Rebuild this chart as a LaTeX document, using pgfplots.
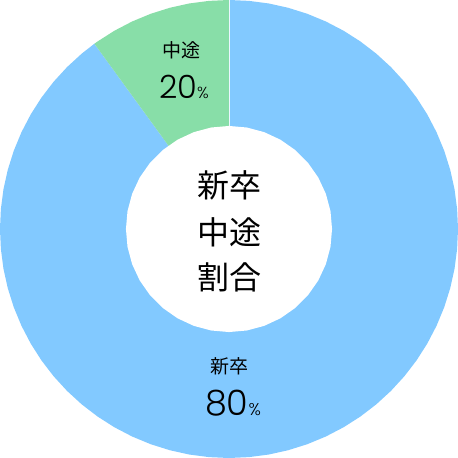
\documentclass[border=0pt]{standalone}
\usepackage{fontspec}
\setmainfont{Noto Sans CJK JP}
\newfontfamily\numfont{Poppins}[UprightFont={* Light}]
\usepackage{pgfplots}
\usepgfplotslibrary{polar}
\pgfplotsset{compat=1.18}
\definecolor{newgrad}{RGB}{130,201,255}
\definecolor{midcar}{RGB}{136,222,168}
\begin{document}
\begin{tikzpicture}
\begin{polaraxis}[
    hide axis,
    scale only axis,
    width=458bp, height=458bp,
    ymin=0, ymax=1,
    clip=false,
]
% 新卒 wedge (outline of the outer circle, angle in degrees, radius 1)
\addplot[draw=none, fill=newgrad, mark=none] coordinates {
(0,0) (126,1) (130,1) (135,1) (140,1) (145,1) (150,1) (155,1) (160,1) (165,1)
(170,1) (175,1) (180,1) (185,1) (190,1) (195,1) (200,1) (205,1) (210,1) (215,1)
(220,1) (225,1) (230,1) (235,1) (240,1) (245,1) (250,1) (255,1) (260,1) (265,1)
(270,1) (275,1) (280,1) (285,1) (290,1) (295,1) (300,1) (305,1) (310,1) (315,1)
(320,1) (325,1) (330,1) (335,1) (340,1) (345,1) (350,1) (355,1) (360,1) (365,1)
(370,1) (375,1) (380,1) (385,1) (390,1) (395,1) (400,1) (405,1) (410,1) (415,1)
(420,1) (425,1) (430,1) (435,1) (440,1) (445,1) (450,1) (0,0)};
% 中途 wedge
\addplot[draw=none, fill=midcar, mark=none] coordinates {
(0,0) (90,1) (95,1) (100,1) (105,1) (110,1) (115,1) (120,1) (125,1) (126,1) (0,0)};
% thin divider at the top
\addplot[draw=white!85!newgrad, line width=0.5bp, mark=none] coordinates {(90,0.45) (90,1)};
% donut hole
\addplot[draw=none, fill=white, mark=none] coordinates {
(0,0.45) (10,0.45) (20,0.45) (30,0.45) (40,0.45) (50,0.45) (60,0.45) (70,0.45)
(80,0.45) (90,0.45) (100,0.45) (110,0.45) (120,0.45) (130,0.45) (140,0.45)
(150,0.45) (160,0.45) (170,0.45) (180,0.45) (190,0.45) (200,0.45) (210,0.45)
(220,0.45) (230,0.45) (240,0.45) (250,0.45) (260,0.45) (270,0.45) (280,0.45)
(290,0.45) (300,0.45) (310,0.45) (320,0.45) (330,0.45) (340,0.45) (350,0.45)
(360,0.45)};
\coordinate (O) at (axis cs:0,0);
\end{polaraxis}
\pgfresetboundingbox
\path (O) ++(-229bp,-229bp) rectangle ++(458bp,458bp);
% labels
\node at ([shift={(-48bp,179bp)}]O) {\fontsize{19bp}{22bp}\selectfont 中途};
\node[anchor=base] at ([shift={(-45bp,130bp)}]O)
  {\numfont\fontsize{32bp}{34bp}\selectfont 20\fontsize{16bp}{18bp}\selectfont\%};
\node at ([shift={(0bp,-137bp)}]O) {\fontsize{19bp}{22bp}\selectfont 新卒};
\node[anchor=base] at ([shift={(4bp,-186bp)}]O)
  {\numfont\fontsize{35bp}{38bp}\selectfont 80\fontsize{17bp}{19bp}\selectfont\%};
% centre title
\node at ([shift={(0bp,44bp)}]O) {\fontsize{32bp}{36bp}\selectfont 新卒};
\node at ([shift={(0bp,-3bp)}]O) {\fontsize{32bp}{36bp}\selectfont 中途};
\node at ([shift={(0bp,-48bp)}]O) {\fontsize{32bp}{36bp}\selectfont 割合};
\end{tikzpicture}
\end{document}
